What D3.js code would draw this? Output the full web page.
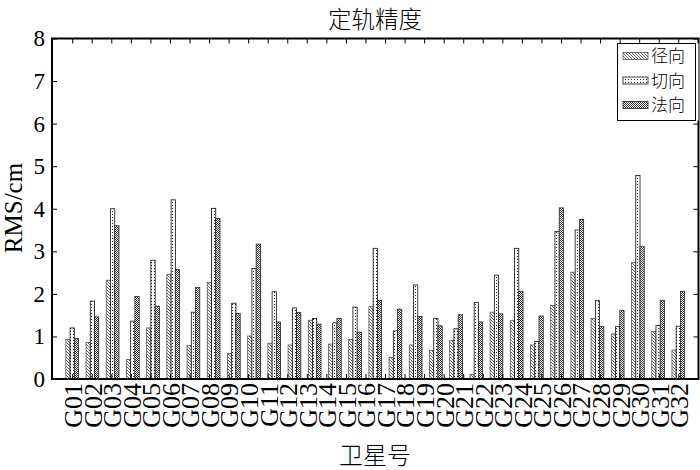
<!DOCTYPE html>
<html><head><meta charset="utf-8">
<script src="https://cdn.jsdelivr.net/npm/d3@7/dist/d3.min.js"></script>
<style>
body{margin:0;background:#fff;}
svg{display:block;}
.cjk{font-family:"Noto Sans CJK SC","Noto Sans CJK JP",sans-serif;font-weight:300;}
</style></head>
<body>
<svg id="chart" width="700" height="470"></svg>
<script>
// ---- data ----
const satLabels = d3.range(1, 33).map(i => "G" + String(i).padStart(2, "0"));
const seriesNames = ["径向", "切向", "法向"];
const radial = [0.93,0.86,2.32,0.46,1.20,2.46,0.79,2.27,0.60,1.01,0.84,0.80,1.38,0.82,0.93,1.70,0.51,0.80,0.67,0.90,0.11,1.57,1.37,0.80,1.73,2.51,1.42,1.06,2.74,1.12,0.68];
const along  = [1.20,1.83,4.00,1.36,2.79,4.21,1.57,4.01,1.78,2.60,2.05,1.67,1.42,1.32,1.69,3.07,1.13,2.21,1.42,1.18,1.80,2.44,3.07,0.88,3.47,3.50,1.84,1.23,4.78,1.26,1.24];
const cross  = [0.95,1.46,3.60,1.94,1.71,2.57,2.15,3.77,1.54,3.17,1.34,1.56,1.29,1.42,1.10,1.85,1.64,1.47,1.25,1.51,1.34,1.53,2.06,1.48,4.02,3.75,1.23,1.61,3.11,1.85,2.06];
const yTicks = [0,1,2,3,4,5,6,7,8];
const titleText = "定轨精度", xTitle = "卫星号", yTitle = "RMS/cm";

// ---- layout ----
const SERIF = '"Liberation Serif","Times New Roman",serif';
const L = 52, R = 698.5, T = 38.5, B = 379;
const svg = d3.select("#chart");
svg.append("rect").attr("width",700).attr("height",470).attr("fill","#fff");

const defs = svg.append("defs");
const p1 = defs.append("pattern").attr("id","hatch").attr("patternUnits","userSpaceOnUse").attr("width",3).attr("height",3);
p1.append("rect").attr("width",3).attr("height",3).attr("fill","#fff");
p1.append("path").attr("d","M0,0L3,3M-1,2L1,4M2,-1L4,1").attr("stroke","#555").attr("stroke-width",0.9);
const p2 = defs.append("pattern").attr("id","dots").attr("patternUnits","userSpaceOnUse").attr("width",3).attr("height",3);
p2.append("rect").attr("width",3).attr("height",3).attr("fill","#fff");
p2.append("rect").attr("x",1).attr("y",1).attr("width",1).attr("height",1).attr("fill","#222");
const p3 = defs.append("pattern").attr("id","checker").attr("patternUnits","userSpaceOnUse").attr("width",2).attr("height",2);
p3.append("rect").attr("width",2).attr("height",2).attr("fill","#fff");
p3.append("rect").attr("x",0).attr("y",0).attr("width",1).attr("height",1).attr("fill","#333");
p3.append("rect").attr("x",1).attr("y",1).attr("width",1).attr("height",1).attr("fill","#333");

const fills = ["url(#hatch)","url(#dots)","url(#checker)"];
const strokes = ["#555","#111","#222"];

const x = d3.scaleLinear().domain([0, radial.length + 1]).range([L, R]);
const lx = d3.scalePoint().domain(satLabels).range([x(1), x(radial.length)]);
const y = d3.scaleLinear().domain([0, 8]).range([B, T]);
const bw = 0.21; // bar width in group units

const series = [radial, along, cross];
series.forEach((vals, s) => {
  svg.append("g").selectAll("rect").data(vals).join("rect")
    .attr("x", (d, i) => x(i + 1 + (s - 1.5) * bw))
    .attr("width", x(bw) - x(0))
    .attr("y", d => y(d))
    .attr("height", d => y(0) - y(d))
    .attr("fill", fills[s])
    .attr("stroke", strokes[s])
    .attr("stroke-width", 0.8);
});

// axes
const ax = svg.append("g");
const gB = ax.append("g").attr("transform",`translate(0,${B})`)
  .call(d3.axisBottom(lx).tickSizeInner(-5).tickSizeOuter(0));
gB.selectAll("text").attr("transform","rotate(-90)").attr("x",-4).attr("y",0)
  .attr("dy","0.36em").attr("text-anchor","end").attr("font-size",26).attr("fill","#000");
const gT = ax.append("g").attr("transform",`translate(0,${T})`)
  .call(d3.axisTop(lx).tickSizeInner(-5).tickSizeOuter(0).tickFormat(""));
const gL = ax.append("g").attr("transform",`translate(${L},0)`)
  .call(d3.axisLeft(y).tickValues(yTicks).tickSizeInner(-5).tickSizeOuter(0).tickPadding(7).tickFormat(d3.format("d")));
gL.selectAll("text").attr("font-size",23).attr("fill","#000");
const gR = ax.append("g").attr("transform",`translate(${R},0)`)
  .call(d3.axisRight(y).tickValues(yTicks).tickSizeInner(-5).tickSizeOuter(0).tickFormat(""));
ax.selectAll(".domain").remove();
ax.selectAll("g").attr("font-family", null).attr("font-size", null);
ax.selectAll("text").attr("font-family", SERIF);
ax.selectAll(".tick line").attr("stroke","#000").attr("stroke-width",1);

// frame
svg.append("rect").attr("x",L).attr("y",T).attr("width",R-L).attr("height",B-T)
  .attr("fill","none").attr("stroke","#000").attr("stroke-width",2);
// legend
const lg = svg.append("g");
lg.append("rect").attr("x",617.5).attr("y",43.5).attr("width",81).attr("height",77).attr("fill","#fff");
lg.append("rect").attr("x",617.5).attr("y",43.5).attr("width",78).attr("height",77)
  .attr("fill","none").attr("stroke","#000").attr("stroke-width",1);
seriesNames.forEach((nm, s) => {
  const cy = 56 + s * 24.5;
  lg.append("rect").attr("x",623).attr("y",cy-3.5).attr("width",25).attr("height",7)
    .attr("fill",fills[s]).attr("stroke",strokes[s]).attr("stroke-width",0.8);
  lg.append("text").attr("class","cjk").attr("x",651).attr("y",cy).attr("dy","0.36em")
    .attr("font-size",17).text(nm);
});

// titles
svg.append("text").attr("class","cjk").attr("x",375).attr("y",20).attr("dy","0.36em")
  .attr("text-anchor","middle").attr("font-size",23.5).text(titleText);
svg.append("text").attr("class","cjk").attr("x",375).attr("y",455).attr("dy","0.36em")
  .attr("text-anchor","middle").attr("font-size",24).text(xTitle);
svg.append("text").attr("font-family",SERIF).attr("transform","translate(13,208) rotate(-90)")
  .attr("dy","0.36em").attr("text-anchor","middle").attr("font-size",25).text(yTitle);
</script>
</body></html>
